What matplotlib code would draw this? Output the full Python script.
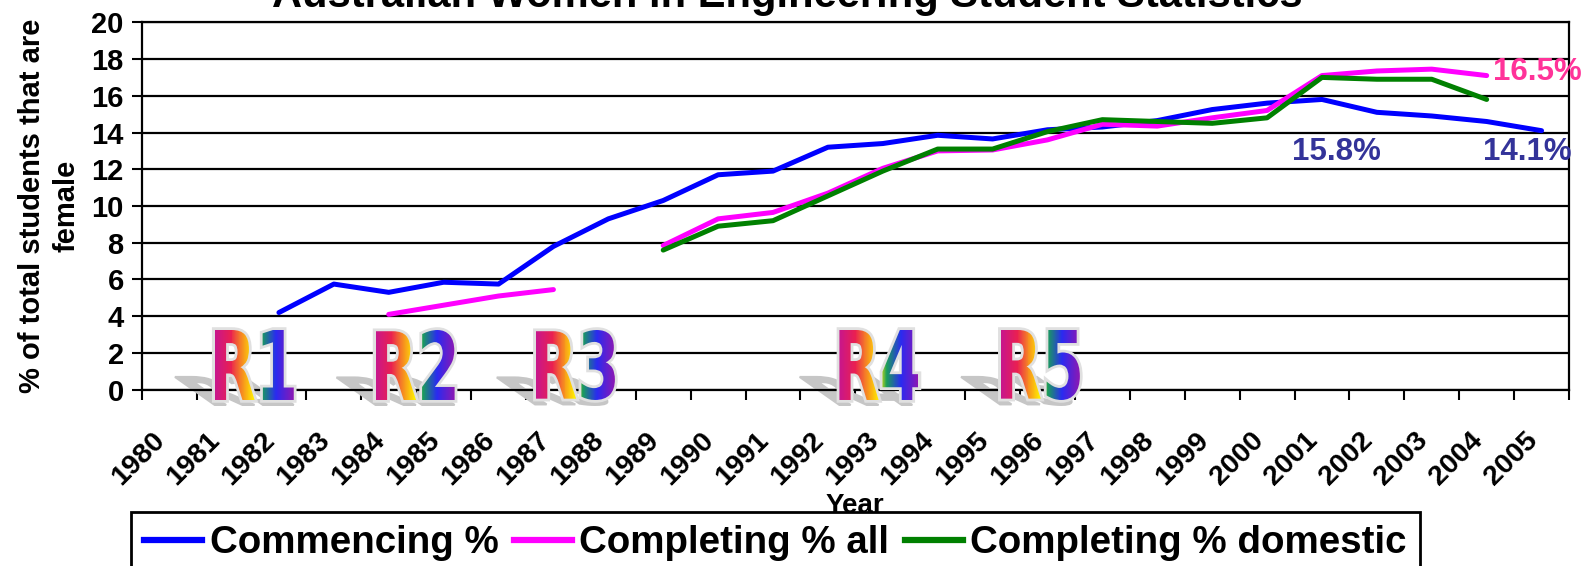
import numpy as np
import matplotlib
matplotlib.use('Agg')
import matplotlib.pyplot as plt
from matplotlib.textpath import TextPath
from matplotlib.patches import PathPatch
from matplotlib.font_manager import FontProperties
from matplotlib.transforms import Affine2D, ScaledTranslation
from matplotlib.collections import PolyCollection
from matplotlib.colors import LinearSegmentedColormap
from matplotlib.lines import Line2D

plt.rcParams['font.family'] = ['Liberation Sans', 'DejaVu Sans']
plt.rcParams['font.weight'] = 'bold'
plt.rcParams['axes.labelweight'] = 'bold'

nan = np.nan
years = [str(y) for y in range(1980, 2006)]
commencing = [nan, nan, 4.2, 5.75, 5.3, 5.85, 5.75, 7.8, 9.3, 10.3, 11.7, 11.9, 13.2,
              13.4, 13.85, 13.65, 14.15, 14.3, 14.65, 15.25, 15.6, 15.8, 15.1, 14.9, 14.6, 14.1]
completing_all = [nan, nan, nan, nan, 4.1, 4.6, 5.1, 5.45, nan, 7.85, 9.3, 9.65, 10.7,
                  12.05, 13.0, 13.05, 13.6, 14.45, 14.35, 14.8, 15.2, 17.1, 17.35, 17.45, 17.1, nan]
completing_dom = [nan, nan, nan, nan, nan, nan, nan, nan, nan, 7.6, 8.9, 9.2, 10.55,
                  11.9, 13.1, 13.1, 14.05, 14.7, 14.6, 14.5, 14.8, 17.0, 16.9, 16.9, 15.8, nan]
series_names = ['Commencing %', 'Completing % all', 'Completing % domestic']
series_colors = ['#0000ff', '#ff00ff', '#008000']

# rainbow "R1".."R5" markers (centre on category axis)
r_labels = ['R1', 'R2', 'R3', 'R4', 'R5']
r_centers = [1.55, 4.48, 7.4, 12.93, 15.87]

rainbow = LinearSegmentedColormap.from_list('wordart', [
    (0.0, '#c8168c'), (0.2, '#ea2050'), (0.36, '#f7941d'), (0.5, '#fff000'),
    (0.6, '#1a9c5c'), (0.78, '#2a2af0'), (1.0, '#8a18b4')])

fig = plt.figure(figsize=(15.87, 5.66), dpi=100)
ax = fig.add_axes([141.7 / 1587, 1 - 389.7 / 566, (1569 - 141.7) / 1587, (389.7 - 22.3) / 566])

x = np.arange(len(years))
for vals, name, col in zip([commencing, completing_all, completing_dom], series_names, series_colors):
    ax.plot(x, vals, color=col, lw=3.6, label=name, zorder=5,
            solid_joinstyle='round', solid_capstyle='round')


def word_art(ax, text, xc, width=1.44, y0=-0.56, y1=3.25):
    tp = TextPath((0, 0), text, size=10, prop=FontProperties(family='DejaVu Sans', weight='bold'))
    ext = tp.get_extents()
    x0 = xc - width / 2
    fit = (Affine2D().translate(-ext.x0, -ext.y0)
           .scale(width / ext.width, (y1 - y0) / ext.height).translate(x0, y0))
    path = fit.transform_path(tp)
    skew = Affine2D(np.array([[1, -0.19, 0.19 * y0], [0, 0.4, 0.6 * y0 - 0.27], [0, 0, 1]]))
    ax.add_patch(PathPatch(skew.transform_path(path), fc='#c6c6c6', ec='#c6c6c6', lw=1.5,
                           transform=ax.transData, clip_on=False, zorder=2))
    ax.add_patch(PathPatch(path, fc='white', ec='#e0e0e0', lw=4,
                           transform=ax.transData, clip_on=False, zorder=4))
    edges = np.linspace(x0, x0 + width, 81)
    strips = [[(a, y0), (b, y0), (b, y1), (a, y1)] for a, b in zip(edges[:-1], edges[1:])]
    coll = PolyCollection(strips, facecolors=rainbow(np.linspace(0, 1, 80)), edgecolors='none',
                          antialiased=False, transform=ax.transData, zorder=4.5)
    coll.set_clip_path(PathPatch(path, transform=ax.transData))
    ax.add_collection(coll, autolim=False)


for lab, xc in zip(r_labels, r_centers):
    word_art(ax, lab, xc)

ax.set_xlim(-0.5, len(years) - 0.5)
ax.set_ylim(0, 20)
ax.set_yticks(np.arange(0, 21, 2))
ax.yaxis.grid(True, color='black', lw=1.6)
ax.set_xticks(x)
ax.set_xticklabels(years)
ax.set_xticks(np.arange(-0.5, len(years)), minor=True)
ax.tick_params(axis='x', which='major', length=0, pad=27, labelsize=20.5)
ax.tick_params(axis='x', which='minor', length=7, width=1.5, direction='out')
ax.tick_params(axis='y', length=7, width=1.5, direction='out', pad=6, labelsize=21)
for lab in ax.get_xticklabels():
    lab.set_rotation(45)
    lab.set_ha('right')
    lab.set_va('top')
    lab.set_rotation_mode('anchor')
    lab.set_transform(lab.get_transform() + ScaledTranslation(-0.17, 0, fig.dpi_scale_trans))
for sp in ax.spines.values():
    sp.set_linewidth(1.6)

ax.set_ylabel('% of total students that are\nfemale', fontsize=21, linespacing=1.3)
ax.yaxis.set_label_coords(-0.043, 0.5)
ax.set_xlabel('Year', fontsize=20, va='top')
ax.xaxis.set_label_coords(0.5, -0.28)

ax.text(21.26, 12.94, '15.8%', color='#333399', fontsize=22.5, ha='center', va='center')
ax.text(24.74, 12.94, '14.1%', color='#333399', fontsize=22.5, ha='center', va='center')
ax.text(24.92, 17.32, '16.5%', color='#ff3399', fontsize=22.5, ha='center', va='center')

fig.text(787 / 1587, 1 - 7 / 566, 'Australian Women in Engineering Student Statistics',
         fontsize=30, ha='center', va='baseline')

handles = [Line2D([], [], color=c, lw=4.5) for c in series_colors]
leg = fig.legend(handles, series_names, loc='upper left', bbox_to_anchor=(131 / 1587, 1 - 512 / 566),
                 ncol=3, fontsize=27.7, frameon=True, fancybox=False, edgecolor='black',
                 handlelength=1.5, handletextpad=0.2, columnspacing=0.4, borderpad=0.35,
                 borderaxespad=0)
leg.get_frame().set_linewidth(2)
leg.get_frame().set_alpha(1)

fig.savefig('out.png', dpi=100)
